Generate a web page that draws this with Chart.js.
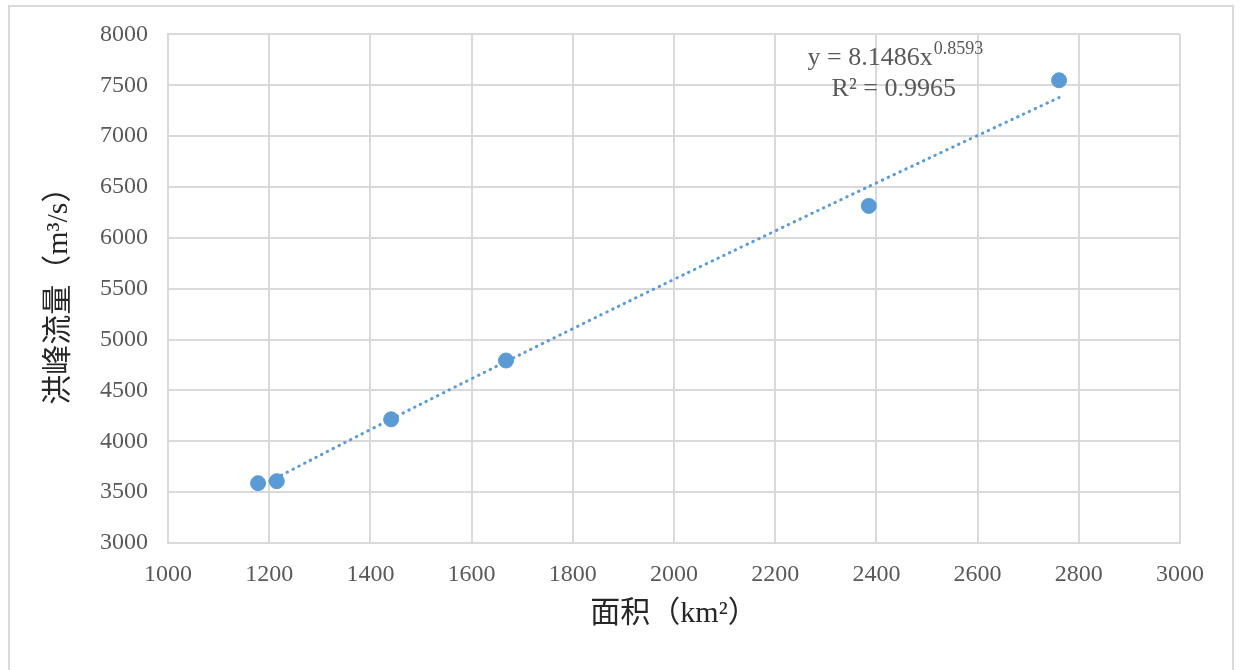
<!DOCTYPE html>
<html>
<head>
<meta charset="utf-8">
<script src="https://cdn.jsdelivr.net/npm/chart.js@4/dist/chart.umd.min.js"></script>
<style>
    html, body { margin: 0; padding: 0; background: #fff; }
    #frame {
        position: absolute; left: 8px; top: 5px; width: 1226px; height: 680px;
        border: 2px solid #d9d9d9; box-sizing: border-box;
    }
    #wrap { position: absolute; left: 0; top: 0; width: 1242px; height: 670px; }
</style>
</head>
<body>
<div id="frame"></div>
<div id="wrap"><canvas id="chart"></canvas></div>
<script>
// Measured points: area (km²) vs. flood peak (m³/s)
const areaValues = [1178, 1215, 1441, 1668, 2385, 2761];
const peakValues = [3588, 3608, 4216, 4794, 6314, 7549];

// Power trendline
const trendX = [1178, 1400, 1600, 1800, 2000, 2200, 2400, 2600, 2761];
const trendY = [3549, 4115, 4615, 5107, 5592, 6068, 6540, 7006, 7379];

const equationText = 'y = 8.1486x';
const exponentText = '0.8593';
const rSquaredText = 'R² = 0.9965';

const serif = '"Liberation Serif", "Times New Roman", serif';
const cjkSerif = '"Liberation Serif", "Noto Sans CJK SC", serif';
const blue = '#5b9bd5';
const gridColor = '#d9d9d9';

// Draw the trendline equation next to the upper end of the line
const equationPlugin = {
    id: 'equation',
    afterDatasetsDraw(chart) {
        const { ctx, scales: { x, y } } = chart;
        const left = x.getPixelForValue(2264);
        const base1 = y.getPixelForValue(7700);
        const base2 = y.getPixelForValue(7395);
        ctx.save();
        ctx.fillStyle = '#595959';
        ctx.textBaseline = 'alphabetic';
        ctx.textAlign = 'left';
        ctx.font = '26px ' + serif;
        ctx.fillText(equationText, left, base1);
        const w = ctx.measureText(equationText).width;
        ctx.font = '18px ' + serif;
        ctx.fillText(exponentText, left + w + 1, base1 - 11);
        ctx.font = '26px ' + serif;
        ctx.fillText(rSquaredText, left + 24, base2);
        ctx.restore();
    }
};

const plainNumber = (value) => String(value);

new Chart(document.getElementById('chart'), {
    type: 'scatter',
    data: {
        datasets: [
            {
                label: 'trend',
                type: 'line',
                data: trendX.map((v, i) => ({ x: v, y: trendY[i] })),
                borderColor: blue,
                borderWidth: 3,
                borderDash: [0.5, 6],
                borderCapStyle: 'round',
                pointRadius: 0,
                fill: false,
                tension: 0.4,
                order: 2
            },
            {
                label: 'data',
                data: areaValues.map((v, i) => ({ x: v, y: peakValues[i] })),
                backgroundColor: blue,
                borderColor: blue,
                pointRadius: 7.5,
                pointHoverRadius: 7.5,
                order: 1
            }
        ]
    },
    options: {
        responsive: true,
        maintainAspectRatio: false,
        animation: false,
        layout: { padding: { top: 33, right: 62, bottom: 38, left: 0 } },
        plugins: {
            legend: { display: false },
            tooltip: { enabled: false }
        },
        scales: {
            x: {
                type: 'linear',
                min: 1000,
                max: 3000,
                afterFit: (scale) => { scale.height = 89; },
                ticks: {
                    stepSize: 200,
                    padding: 17,
                    color: '#595959',
                    font: { family: serif, size: 24 },
                    callback: plainNumber
                },
                grid: { color: gridColor, lineWidth: 2, drawTicks: false },
                border: { color: gridColor, width: 2 },
                title: {
                    display: true,
                    text: '面积（km²）',
                    color: '#262626',
                    font: { family: cjkSerif, size: 30 },
                    padding: { top: 0, bottom: 0 }
                }
            },
            y: {
                min: 3000,
                max: 8000,
                afterFit: (scale) => { scale.width = 168; },
                ticks: {
                    stepSize: 500,
                    padding: 20,
                    color: '#595959',
                    font: { family: serif, size: 24 },
                    callback: plainNumber
                },
                grid: { color: gridColor, lineWidth: 2, drawTicks: false },
                border: { color: gridColor, width: 2 },
                title: {
                    display: true,
                    text: '洪峰流量（m³/s）',
                    color: '#262626',
                    font: { family: cjkSerif, size: 30 },
                    padding: { top: 41, bottom: 0 }
                }
            }
        }
    },
    plugins: [equationPlugin]
});
</script>
</body>
</html>
